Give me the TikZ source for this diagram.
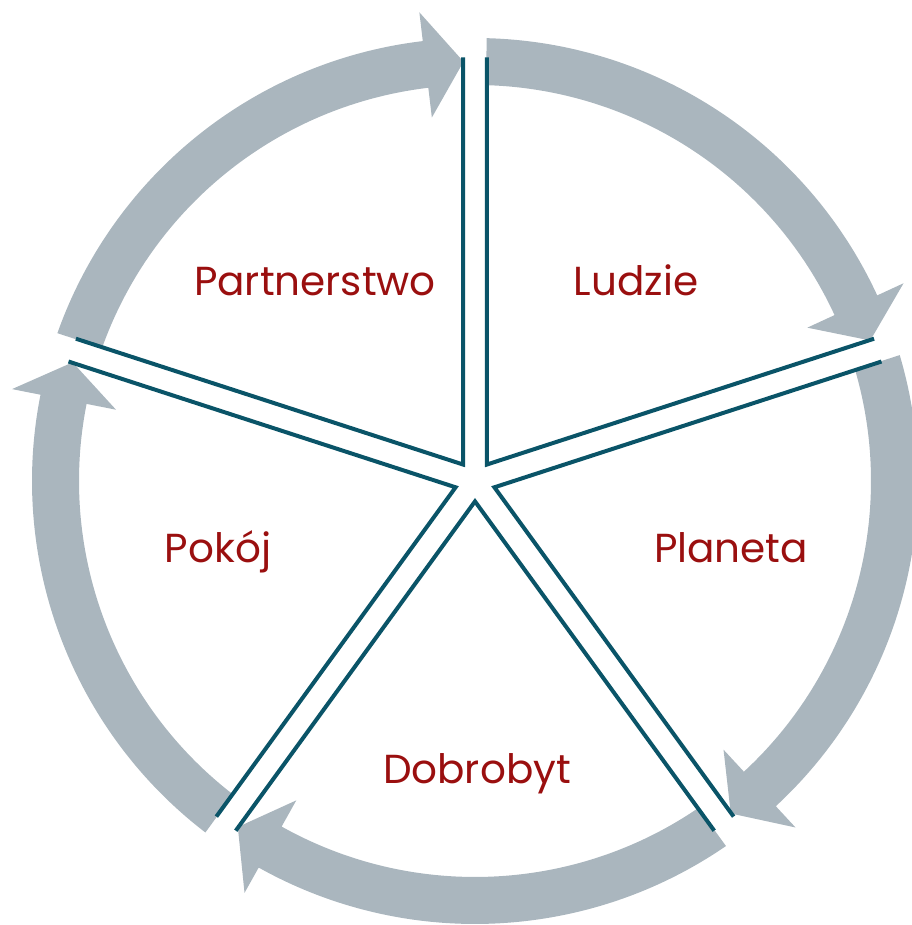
\documentclass[tikz,border=0pt]{standalone}
\usepackage{fontspec}
\setmainfont{Poppins}
\definecolor{arcgray}{RGB}{170,182,190}
\definecolor{teal}{RGB}{10,84,104}
\definecolor{labred}{RGB}{154,15,15}
\begin{document}
\begin{tikzpicture}[x=1pt,y=1pt,
  arrowband/.style={fill=arcgray,draw=none},
  wedgeline/.style={draw=teal,line width=4pt,line join=miter},
  lab/.style={text=labred,font=\fontsize{40.5}{48}\selectfont,anchor=base,inner sep=0pt}]
\useasboundingbox (-475,-444) rectangle (436,481);
% arrows
\foreach \t in {90,18,-54,-126,-198}{
  \pgfmathsetmacro{\so}{\t-1.49}
  \pgfmathsetmacro{\si}{\t-1.66}
  \pgfmathsetmacro{\tt}{\t-72+1.57}
  \pgfmathsetmacro{\tb}{\tt+5.2}
  \fill[arrowband] (\so:443) arc[start angle=\so,end angle=\tb,radius=443]
    -- (\tb:472) -- (\tt:419.5) -- (\tb:366) -- (\tb:396)
    arc[start angle=\tb,end angle=\si,radius=396] -- cycle;
}
% wedges
\foreach \b in {54,-18,-90,-162,-234}{
  \pgfmathsetmacro{\ba}{\b+36}
  \pgfmathsetmacro{\bc}{\b-36}
  \draw[wedgeline] ([shift={(\b:20.4)}]\ba:407) -- (\b:20.4) -- ([shift={(\b:20.4)}]\bc:407);
}
\node[lab] (partnerstwo) at (-160,185) {Partnerstwo};
\node[lab] (ludzie) at (161,185) {Ludzie};
\node[lab] (planeta) at (256,-82) {Planeta};
\node[lab] (pokoj) at (-257,-82) {Pokój};
\node[lab] (dobrobyt) at (2,-302) {Dobrobyt};
\end{tikzpicture}
\end{document}
